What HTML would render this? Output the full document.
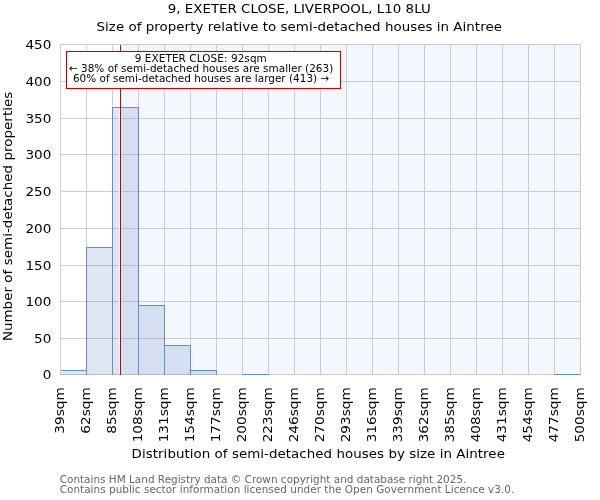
<!DOCTYPE html>
<html><head><meta charset="utf-8"><title>9, EXETER CLOSE, LIVERPOOL, L10 8LU</title>
<style>html,body{margin:0;padding:0;background:#fff;width:600px;height:500px;overflow:hidden}svg{display:block}</style>
</head><body>
<svg width="600" height="500" viewBox="0 0 600 500" font-family="DejaVu Sans, sans-serif">
<rect width="600" height="500" fill="#ffffff"/>
<rect x="120.5" y="44" width="460.0" height="331" fill="#f4f7fe"/>
<path d="M60.5 44V375M86.5 44V375M112.5 44V375M138.5 44V375M164.5 44V375M190.5 44V375M216.5 44V375M242.5 44V375M268.5 44V375M294.5 44V375M320.5 44V375M346.5 44V375M372.5 44V375M398.5 44V375M424.5 44V375M450.5 44V375M476.5 44V375M502.5 44V375M528.5 44V375M554.5 44V375M580.5 44V375M60.0 374.5H581.0M60.0 338.5H581.0M60.0 301.5H581.0M60.0 265.5H581.0M60.0 228.5H581.0M60.0 191.5H581.0M60.0 154.5H581.0M60.0 118.5H581.0M60.0 81.5H581.0M60.0 44.5H581.0" stroke="#cccccc" stroke-width="1" fill="none"/>
<rect x="60.5" y="370.5" width="26.0" height="4.5" fill="rgba(95,130,195,0.2)"/>
<path d="M60.5 375.0V370.5H86.5V375.0" fill="none" stroke="#5b8ed6" stroke-width="1.0"/>
<rect x="86.5" y="247.5" width="26.0" height="127.5" fill="rgba(95,130,195,0.2)"/>
<path d="M86.5 375.0V247.5H112.5V375.0" fill="none" stroke="#5b8ed6" stroke-width="1.0"/>
<rect x="112.5" y="107.5" width="26.0" height="267.5" fill="rgba(95,130,195,0.2)"/>
<path d="M112.5 375.0V107.5H138.5V375.0" fill="none" stroke="#5b8ed6" stroke-width="1.0"/>
<rect x="138.5" y="305.5" width="26.0" height="69.5" fill="rgba(95,130,195,0.2)"/>
<path d="M138.5 375.0V305.5H164.5V375.0" fill="none" stroke="#5b8ed6" stroke-width="1.0"/>
<rect x="164.5" y="345.5" width="26.0" height="29.5" fill="rgba(95,130,195,0.2)"/>
<path d="M164.5 375.0V345.5H190.5V375.0" fill="none" stroke="#5b8ed6" stroke-width="1.0"/>
<rect x="190.5" y="370.5" width="26.0" height="4.5" fill="rgba(95,130,195,0.2)"/>
<path d="M190.5 375.0V370.5H216.5V375.0" fill="none" stroke="#5b8ed6" stroke-width="1.0"/>
<rect x="242.5" y="374.5" width="26.0" height="0.5" fill="rgba(95,130,195,0.2)"/>
<path d="M242.5 375.0V374.5H268.5V375.0" fill="none" stroke="#5b8ed6" stroke-width="1.0"/>
<rect x="554.5" y="374.5" width="26.0" height="0.5" fill="rgba(95,130,195,0.2)"/>
<path d="M554.5 375.0V374.5H580.5V375.0" fill="none" stroke="#5b8ed6" stroke-width="1.0"/>
<rect x="119.0" y="108.0" width="1" height="266.0" fill="#def4ff"/>
<rect x="121.0" y="108.0" width="1" height="266.0" fill="#d5eefd"/>
<rect x="121.0" y="45" width="1" height="62.0" fill="#f7ffff"/>
<path d="M120.5 45V375" stroke="#cc0000" stroke-width="1.0"/>
<path d="M60.5 44V375" stroke="#d0d0d0" stroke-width="1"/>
<rect x="66.5" y="51.5" width="274" height="37" fill="#ffffff" stroke="#cc0000" stroke-width="1.1"/>
<text transform="translate(134.7,61.8)" font-size="10.45" textLength="132.10" lengthAdjust="spacing" fill="#000000">9 EXETER CLOSE: 92sqm</text>
<text transform="translate(68.9,71.7)" font-size="10.45" textLength="264.40" lengthAdjust="spacing" fill="#000000">← 38% of semi-detached houses are smaller (263)</text>
<text transform="translate(72.9,81.9)" font-size="10.45" textLength="256.40" lengthAdjust="spacing" fill="#000000">60% of semi-detached houses are larger (413) →</text>
<text transform="translate(51.5,378.9) scale(1.0880,1)" font-size="12.55" text-anchor="end" fill="#000000">0</text>
<text transform="translate(51.5,342.9) scale(1.0880,1)" font-size="12.55" text-anchor="end" fill="#000000">50</text>
<text transform="translate(51.5,305.9) scale(1.0880,1)" font-size="12.55" text-anchor="end" fill="#000000">100</text>
<text transform="translate(51.5,269.9) scale(1.0880,1)" font-size="12.55" text-anchor="end" fill="#000000">150</text>
<text transform="translate(51.5,232.9) scale(1.0880,1)" font-size="12.55" text-anchor="end" fill="#000000">200</text>
<text transform="translate(51.5,195.9) scale(1.0880,1)" font-size="12.55" text-anchor="end" fill="#000000">250</text>
<text transform="translate(51.5,158.9) scale(1.0880,1)" font-size="12.55" text-anchor="end" fill="#000000">300</text>
<text transform="translate(51.5,122.9) scale(1.0880,1)" font-size="12.55" text-anchor="end" fill="#000000">350</text>
<text transform="translate(51.5,85.9) scale(1.0880,1)" font-size="12.55" text-anchor="end" fill="#000000">400</text>
<text transform="translate(51.5,48.9) scale(1.0880,1)" font-size="12.55" text-anchor="end" fill="#000000">450</text>
<text transform="translate(64,387.2) rotate(-90) scale(1.0880,1)" font-size="12.55" text-anchor="end" fill="#000000">39sqm</text>
<text transform="translate(90,387.2) rotate(-90) scale(1.0880,1)" font-size="12.55" text-anchor="end" fill="#000000">62sqm</text>
<text transform="translate(116,387.2) rotate(-90) scale(1.0880,1)" font-size="12.55" text-anchor="end" fill="#000000">85sqm</text>
<text transform="translate(142,387.2) rotate(-90) scale(1.0880,1)" font-size="12.55" text-anchor="end" fill="#000000">108sqm</text>
<text transform="translate(168,387.2) rotate(-90) scale(1.0880,1)" font-size="12.55" text-anchor="end" fill="#000000">131sqm</text>
<text transform="translate(194,387.2) rotate(-90) scale(1.0880,1)" font-size="12.55" text-anchor="end" fill="#000000">154sqm</text>
<text transform="translate(220,387.2) rotate(-90) scale(1.0880,1)" font-size="12.55" text-anchor="end" fill="#000000">177sqm</text>
<text transform="translate(246,387.2) rotate(-90) scale(1.0880,1)" font-size="12.55" text-anchor="end" fill="#000000">200sqm</text>
<text transform="translate(272,387.2) rotate(-90) scale(1.0880,1)" font-size="12.55" text-anchor="end" fill="#000000">223sqm</text>
<text transform="translate(298,387.2) rotate(-90) scale(1.0880,1)" font-size="12.55" text-anchor="end" fill="#000000">246sqm</text>
<text transform="translate(324,387.2) rotate(-90) scale(1.0880,1)" font-size="12.55" text-anchor="end" fill="#000000">270sqm</text>
<text transform="translate(350,387.2) rotate(-90) scale(1.0880,1)" font-size="12.55" text-anchor="end" fill="#000000">293sqm</text>
<text transform="translate(376,387.2) rotate(-90) scale(1.0880,1)" font-size="12.55" text-anchor="end" fill="#000000">316sqm</text>
<text transform="translate(402,387.2) rotate(-90) scale(1.0880,1)" font-size="12.55" text-anchor="end" fill="#000000">339sqm</text>
<text transform="translate(428,387.2) rotate(-90) scale(1.0880,1)" font-size="12.55" text-anchor="end" fill="#000000">362sqm</text>
<text transform="translate(454,387.2) rotate(-90) scale(1.0880,1)" font-size="12.55" text-anchor="end" fill="#000000">385sqm</text>
<text transform="translate(480,387.2) rotate(-90) scale(1.0880,1)" font-size="12.55" text-anchor="end" fill="#000000">408sqm</text>
<text transform="translate(506,387.2) rotate(-90) scale(1.0880,1)" font-size="12.55" text-anchor="end" fill="#000000">431sqm</text>
<text transform="translate(532,387.2) rotate(-90) scale(1.0880,1)" font-size="12.55" text-anchor="end" fill="#000000">454sqm</text>
<text transform="translate(558,387.2) rotate(-90) scale(1.0880,1)" font-size="12.55" text-anchor="end" fill="#000000">477sqm</text>
<text transform="translate(584,387.2) rotate(-90) scale(1.0880,1)" font-size="12.55" text-anchor="end" fill="#000000">500sqm</text>
<text transform="translate(131.6,458) scale(1.0677,1)" font-size="12.55" textLength="349.63" lengthAdjust="spacing" fill="#000000">Distribution of semi-detached houses by size in Aintree</text>
<text transform="translate(167.8,13) scale(1.0677,1)" font-size="12.55" fill="#000000">9, EXETER CLOSE, LIVERPOOL, L10 8LU</text>
<text transform="translate(96.6,30.8) scale(1.0677,1)" font-size="12.55" textLength="379.60" lengthAdjust="spacing" fill="#000000">Size of property relative to semi-detached houses in Aintree</text>
<text transform="translate(12.1,341.1) rotate(-90) scale(1.0677,1)" font-size="12.55" textLength="233.59" lengthAdjust="spacing" fill="#000000">Number of semi-detached properties</text>
<text transform="translate(59.7,482.7)" font-size="10.45" textLength="406.70" lengthAdjust="spacing" fill="#666666">Contains HM Land Registry data © Crown copyright and database right 2025.</text>
<text transform="translate(59.7,492.5)" font-size="10.45" textLength="454.60" lengthAdjust="spacing" fill="#666666">Contains public sector information licensed under the Open Government Licence v3.0.</text>
</svg>
</body></html>
